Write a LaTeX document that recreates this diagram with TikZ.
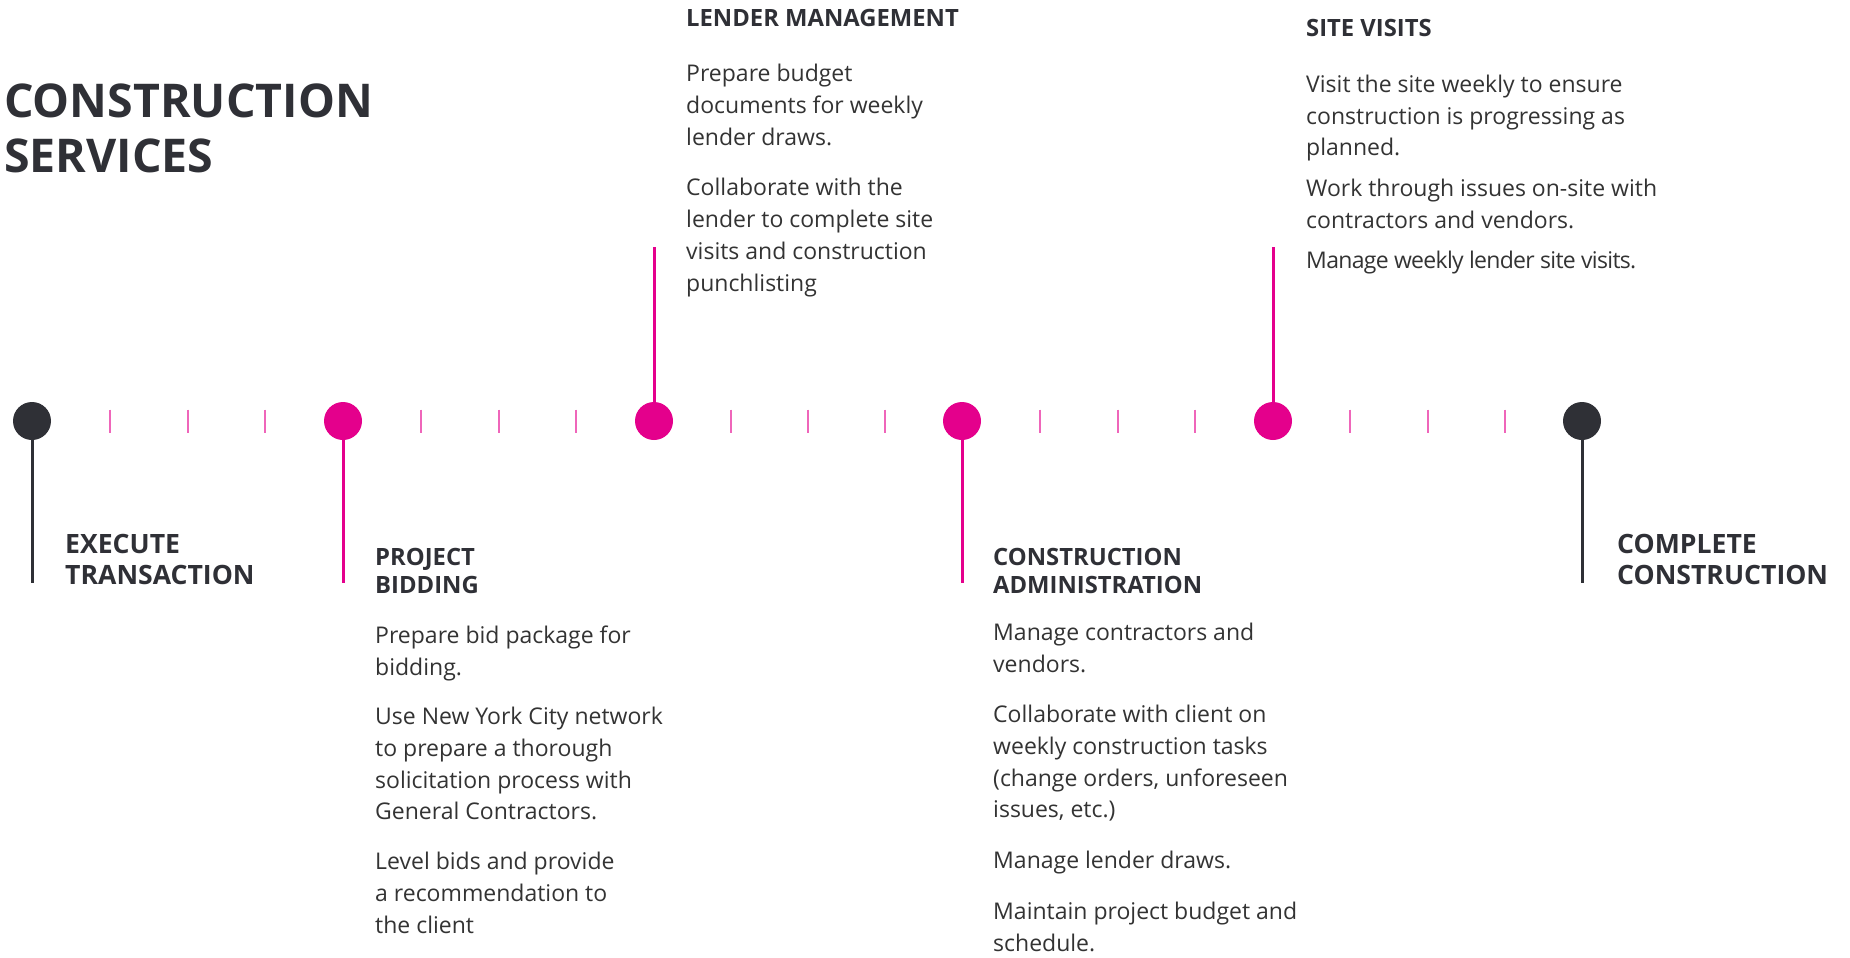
\documentclass[tikz,border=0pt]{standalone}
\usepackage{fontspec}
\setmainfont{Open Sans}
\usetikzlibrary{positioning,calc}

\definecolor{brandpink}{HTML}{E4008C}
\definecolor{inkgray}{HTML}{2F3036}
\definecolor{textgray}{HTML}{333333}

% multi-line nodes sit on the baseline of their last line
\tikzset{
    milestone/.style={circle, fill=brandpink, minimum size=38pt, inner sep=0pt},
    endpoint/.style={milestone, fill=inkgray},
    stem/.style={line width=3pt, brandpink},
    darkstem/.style={line width=3pt, inkgray},
    tickmark/.style={line width=2pt, brandpink!60},
    heading/.style={anchor=base west, align=left, inner sep=0pt, text=inkgray,
        font=\fontsize{23.8}{28}\selectfont\bfseries},
    bigheading/.style={heading, font=\fontsize{26.6}{31}\selectfont\bfseries},
    body/.style={anchor=base west, align=left, inner sep=0pt, text=textgray,
        font=\fontsize{23}{31.7}\selectfont},
}

\begin{document}
\begin{tikzpicture}[x=1pt, y=-1pt]
        \useasboundingbox (0,0) rectangle (1850,958);

        \node[anchor=base west, align=left, inner sep=0pt, text=inkgray,
            font=\fontsize{46.5}{55}\selectfont\bfseries] (title) at (4,172) {CONSTRUCTION\\SERVICES};

        % timeline milestones
        \node[endpoint] (exec) at (32,421) {};
        \node[milestone] (bid) at (343,421) {};
        \node[milestone] (lender) at (654,421) {};
        \node[milestone] (admin) at (962,421) {};
        \node[milestone] (site) at (1273,421) {};
        \node[endpoint] (done) at (1582,421) {};

        \foreach \a/\b in {exec/bid, bid/lender, lender/admin, admin/site, site/done}
            \foreach \k in {1,2,3}
                \draw[tickmark] ($(\a)!\k/4!(\b)$) +(0,-11.5) -- +(0,11.5);

        % stems
        \coordinate (execfoot) at (32,583);
        \coordinate (bidfoot) at (343,583);
        \coordinate (lendertop) at (654,247);
        \coordinate (adminfoot) at (962,583);
        \coordinate (sitetop) at (1273,247);
        \coordinate (donefoot) at (1582,583);

        \draw[darkstem] (exec) -- (execfoot);
        \draw[stem] (bid) -- (bidfoot);
        \draw[stem] (lender) -- (lendertop);
        \draw[stem] (admin) -- (adminfoot);
        \draw[stem] (site) -- (sitetop);
        \draw[darkstem] (done) -- (donefoot);

        % labels
        \node[bigheading] (exechead) at (65,584) {EXECUTE\\TRANSACTION};
        \node[bigheading] (donehead) at (1617,584) {COMPLETE\\CONSTRUCTION};

        \node[heading] (bidhead) at (375,593) {PROJECT\\BIDDING};
        \node[body] (bidtext) at (375,933) {Prepare bid package for\\bidding.\\[18pt]
            Use New York City network\\to prepare a thorough\\solicitation process with\\General Contractors.\\[18pt]
            Level bids and provide\\a recommendation to\\the client};

        \node[heading] (lenderhead) at (686,27) {LENDER MANAGEMENT};
        \node[body] (lendertext) at (686,291) {Prepare budget\\documents for weekly\\lender draws.\\[19pt]
            Collaborate with the\\lender to complete site\\visits and construction\\punchlisting};

        \node[heading] (adminhead) at (993,593) {CONSTRUCTION\\ADMINISTRATION};
        \node[body] (admintext) at (993,951) {Manage contractors and\\vendors.\\[19pt]
            Collaborate with client on\\weekly construction tasks\\(change orders, unforeseen\\issues, etc.)\\[19pt]
            Manage lender draws.\\[19pt]
            Maintain project budget and\\schedule.};

        \node[heading] (sitehead) at (1306,37) {SITE VISITS};
        \node[body] (sitetext) at (1306,268) {Visit the site weekly to ensure\\construction is progressing as\\planned.\\[9pt]
            Work through issues on-site with\\contractors and vendors.\\[8pt]
            {\addfontfeature{LetterSpace=-3}Manage weekly lender site visits.}};
\end{tikzpicture}
\end{document}
